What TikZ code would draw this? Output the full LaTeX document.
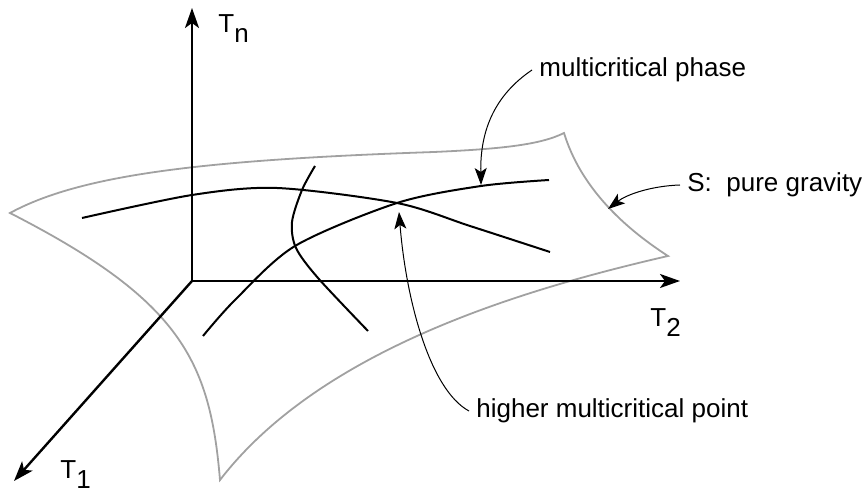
\documentclass[tikz,border=0pt]{standalone}
\usepackage{fontspec}
\setmainfont{Liberation Sans}
\usetikzlibrary{arrows.meta}
\newcommand{\lowsub}[1]{\raisebox{-0.36em}{#1}}

\begin{document}
\begin{tikzpicture}[x=0.5pt, y=-0.5pt,
  axis/.style={line width=1.2pt, -{Stealth[length=10pt, width=7pt, inset=2.5pt]}},
  phaseline/.style={line width=1pt},
  surf/.style={line width=0.9pt, draw=black!37, line join=miter},
  pointer/.style={line width=0.5pt, -{Stealth[length=8.5pt, width=6pt, inset=2pt]}},
  lbl/.style={font=\fontsize{13}{15}\selectfont, inner sep=3.5pt, anchor=west}]
\useasboundingbox (0,0) rectangle (868,491);
\coordinate (sl) at (10,213);
\coordinate (str) at (564,133);
\coordinate (sr) at (668,256);
\coordinate (sb) at (220,480);
\draw[surf] (sl) .. controls (80,175) and (200,160) .. (434,152)
  .. controls (500,149) and (540,145) .. (str)
  .. controls (580,185) and (620,225) .. (sr)
  .. controls (520,290) and (320,350) .. (sb)
  .. controls (210,360) and (180,300) .. (sl) -- cycle;
\draw[phaseline] plot[smooth] coordinates {(82,218) (192,195) (277,188)
  (397,203) (470,226) (550,252)};
\draw[phaseline] plot[smooth] coordinates {(203,336) (235,300) (295,246)
  (397,203) (481,186) (549,180)};
\draw[phaseline] plot[smooth] coordinates {(315,166) (302,190) (292,222)
  (296,248) (318,278) (368,331)};
\coordinate (o) at (192,281);
\coordinate (tnend) at (192,8);
\coordinate (t2end) at (680,281);
\coordinate (t1end) at (14,481);
\draw[axis] (o) -- (tnend);
\draw[axis] (o) -- (t2end);
\draw[axis] (o) -- (t1end);
\node[lbl, anchor=base west, inner sep=0] (tn) at (218,33) {T\lowsub{n}};
\node[lbl, anchor=base west, inner sep=0] (t2) at (650,327) {T\lowsub{2}};
\node[lbl, anchor=base west, inner sep=0] (t1) at (60,479) {T\lowsub{1}};
\node[lbl] (phase) at (532,70) {multicritical phase};
\node[lbl] (grav) at (680,185) {S:\ \ pure gravity};
\node[lbl] (hpoint) at (469,411) {higher multicritical point};
\coordinate (cphase) at (481,185);
\coordinate (csurf) at (608,209);
\coordinate (cpoint) at (399,212);
\draw[pointer] (phase.west) .. controls (495,95) and (480,130) .. (cphase);
\draw[pointer] (grav.west) .. controls (650,186) and (626,195) .. (csurf);
\draw[pointer] (hpoint.west) .. controls (430,390) and (406,300) .. (cpoint);
\end{tikzpicture}
\end{document}
